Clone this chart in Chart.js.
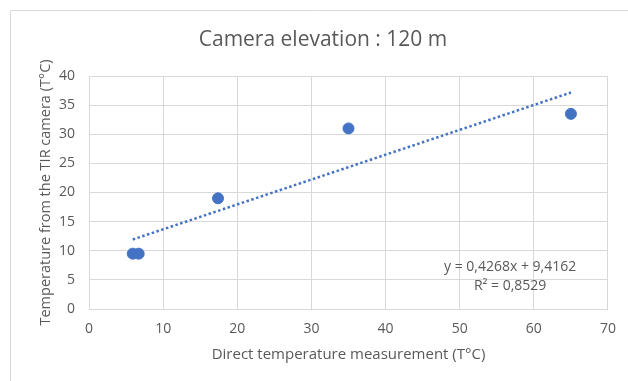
<!DOCTYPE html>
<html>
<head>
<meta charset="utf-8">
<script src="https://cdn.jsdelivr.net/npm/chart.js@4"></script>
<style>
  html, body { margin: 0; padding: 0; background: #fff; }
  #wrap { width: 628px; height: 381px; position: relative; }
</style>
</head>
<body>
<div id="wrap"><canvas id="chart" width="628" height="381"></canvas></div>
<script>
// values
const directTemp = [5.9, 6.7, 17.4, 35, 65];
const cameraTemp = [9.5, 9.5, 19, 31, 33.5];
const xTicks = [0, 10, 20, 30, 40, 50, 60, 70];
const yTicks = [0, 5, 10, 15, 20, 25, 30, 35, 40];
// linear trendline shown on the chart
const slope = 0.4268;
const intercept = 9.4162;
const rSquared = "0,8529";

const blue = "#4472C4";
const grey = "#595959";
const font = "'Open Sans', sans-serif";

const points = directTemp.map((x, i) => ({ x: x, y: cameraTemp[i] }));
const xMin = Math.min(...directTemp);
const xMax = Math.max(...directTemp);
const trend = [
  { x: xMin, y: slope * xMin + intercept },
  { x: xMax, y: slope * xMax + intercept },
];

// frame around the chart + equation label
const extras = {
  id: "extras",
  beforeDraw(chart) {
    const c = chart.ctx;
    c.save();
    c.strokeStyle = "#d9d9d9";
    c.lineWidth = 1;
    c.beginPath();
    c.moveTo(10.5, 381);
    c.lineTo(10.5, 10.5);
    c.lineTo(628, 10.5);
    c.stroke();
    c.restore();
  },
  afterDatasetsDraw(chart) {
    const c = chart.ctx;
    const xs = chart.scales.x, ys = chart.scales.y;
    const cx = xs.getPixelForValue(56.8);
    c.save();
    c.fillStyle = grey;
    c.font = "14px " + font;
    c.textAlign = "center";
    c.textBaseline = "middle";
    c.fillText("y = " + slope.toString().replace(".", ",") + "x + " +
      intercept.toString().replace(".", ","), cx, ys.getPixelForValue(7.2));
    c.fillText("R² = " + rSquared, cx, ys.getPixelForValue(4.0));
    c.restore();
  },
};

new Chart(document.getElementById("chart").getContext("2d"), {
  type: "scatter",
  data: {
    datasets: [
      {
        label: "Measurements",
        data: points,
        backgroundColor: blue,
        borderColor: blue,
        pointRadius: 5.5,
        pointHoverRadius: 5.5,
        order: 1,
      },
      {
        label: "Linear trend",
        type: "line",
        data: trend,
        borderColor: blue,
        borderWidth: 2.5,
        borderDash: [2.5, 2.5],
        pointRadius: 0,
        fill: false,
        order: 2,
      },
    ],
  },
  options: {
    responsive: false,
    animation: false,
    layout: { padding: { left: 37, right: 19, top: 0, bottom: 0 } },
    plugins: {
      legend: { display: false },
      tooltip: { enabled: false },
      title: {
        display: true,
        text: "Camera elevation : 120 m",
        color: grey,
        font: { family: font, size: 21, weight: "normal" },
        padding: { top: 27, bottom: 23.8 },
      },
    },
    scales: {
      x: {
        type: "linear",
        min: xTicks[0],
        max: xTicks[xTicks.length - 1],
        afterBuildTicks: (s) => { s.ticks = xTicks.map((v) => ({ value: v })); },
        afterFit: (s) => { s.height = 72; },
        grid: { color: "#d9d9d9", drawTicks: false, tickLength: 0 },
        border: { color: "#d9d9d9" },
        ticks: { color: grey, padding: 12, font: { family: font, size: 14 } },
        title: {
          display: true,
          text: "Direct temperature measurement (T°C)",
          color: grey,
          font: { family: font, size: 15 },
          padding: { top: 4, bottom: 17 },
        },
      },
      y: {
        type: "linear",
        min: yTicks[0],
        max: yTicks[yTicks.length - 1],
        afterBuildTicks: (s) => { s.ticks = yTicks.map((v) => ({ value: v })); },
        afterFit: (s) => { s.width = 52; },
        grid: { color: "#d9d9d9", drawTicks: false, tickLength: 0 },
        border: { color: "#d9d9d9" },
        ticks: { color: grey, padding: 14, font: { family: font, size: 14 } },
        title: {
          display: true,
          text: "Temperature from the TIR camera (T°C)",
          color: grey,
          font: { family: font, size: 14.5 },
          padding: { top: 0, bottom: 4 },
        },
      },
    },
  },
  plugins: [extras],
});
</script>
</body>
</html>
